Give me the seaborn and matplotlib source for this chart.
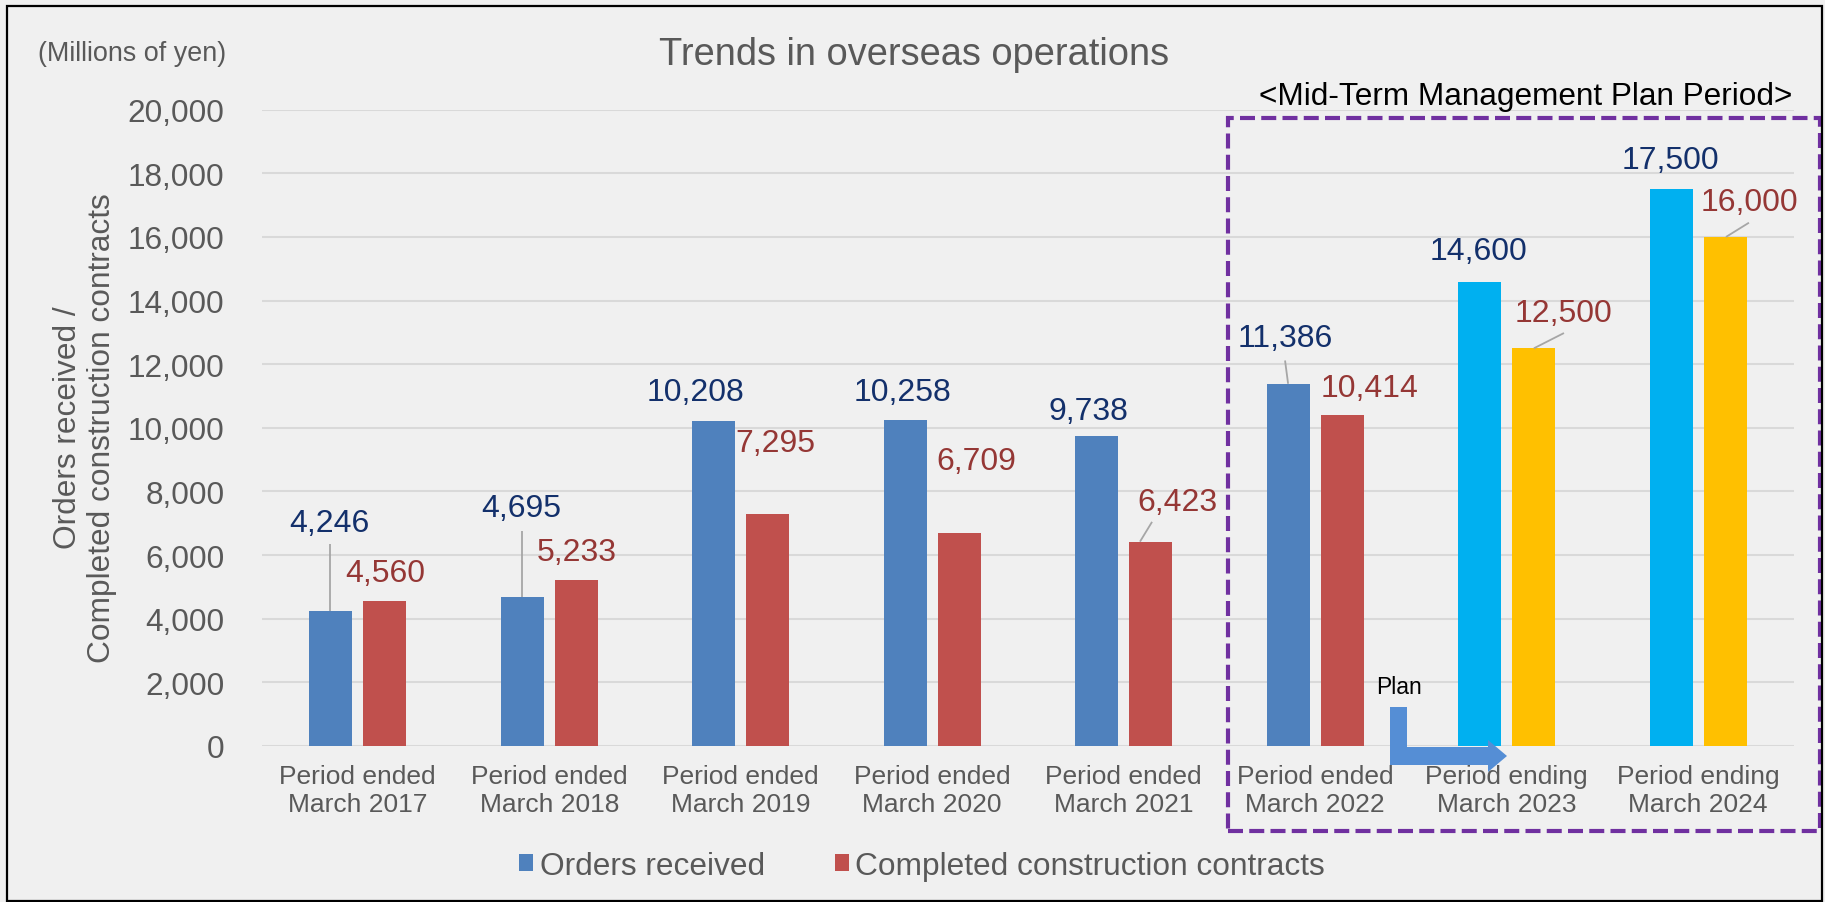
import numpy as np
import pandas as pd
import matplotlib
matplotlib.use("Agg")
import matplotlib.pyplot as plt
import seaborn as sns
from matplotlib.patches import Rectangle, Polygon, Patch

# ---------------- data ----------------
periods = ["Period ended\nMarch 2017", "Period ended\nMarch 2018", "Period ended\nMarch 2019",
           "Period ended\nMarch 2020", "Period ended\nMarch 2021", "Period ended\nMarch 2022",
           "Period ending\nMarch 2023", "Period ending\nMarch 2024"]
orders = [4246, 4695, 10208, 10258, 9738, 11386, 14600, 17500]
contracts = [4560, 5233, 7295, 6709, 6423, 10414, 12500, 16000]
series_names = ["Orders received", "Completed construction contracts"]
y_ticks = [0, 2000, 4000, 6000, 8000, 10000, 12000, 14000, 16000, 18000, 20000]
n_actual = 6  # first six periods are actuals, the rest are plan

# ---------------- style ----------------
BG = "#F0F0F0"
C_ORD = "#4F81BD"
C_CON = "#C0504D"
C_ORD_PLAN = "#00B0F0"
C_CON_PLAN = "#FFC000"
C_ORD_TXT = "#13306B"
C_CON_TXT = "#953735"
GREY_TXT = "#595959"

sns.set_theme(style="white")
plt.rcParams["font.family"] = ["Liberation Sans", "DejaVu Sans"]

W, H = 1825, 903
fig = plt.figure(figsize=(W / 100, H / 100), dpi=100, facecolor=BG)

def fx(px):
    return px / W

def fy(py):
    return 1 - py / H

ax = fig.add_axes([fx(262), fy(747), (1794 - 262) / W, (747 - 110.7) / H])
ax.set_facecolor(BG)

df = pd.DataFrame({
    "period": periods * 2,
    "series": [series_names[0]] * len(periods) + [series_names[1]] * len(periods),
    "value": orders + contracts,
})

sns.barplot(data=df, x="period", y="value", hue="series", order=periods,
            hue_order=series_names, palette=[C_ORD, C_CON], saturation=1,
            width=0.567, gap=0.21, legend=False, ax=ax, linewidth=0, zorder=3)

ord_bars = ax.containers[0]
con_bars = ax.containers[1]
for i, b in enumerate(ord_bars):
    if i >= n_actual:
        b.set_facecolor(C_ORD_PLAN)
for i, b in enumerate(con_bars):
    if i >= n_actual:
        b.set_facecolor(C_CON_PLAN)

ax.set_xlim(-0.5, 7.5)
ax.set_ylim(0, 20000)
ax.set_yticks(y_ticks)
ax.set_yticklabels([f"{v:,}" for v in y_ticks])
ax.yaxis.grid(True, color="#D9D9D9", linewidth=1.5, zorder=0)
ax.xaxis.grid(False)
ax.set_axisbelow(True)
for s in ax.spines.values():
    s.set_visible(False)
ax.tick_params(axis="y", length=0, pad=27, labelsize=22.7, labelcolor=GREY_TXT)
ax.tick_params(axis="x", length=0, pad=13, labelsize=19, labelcolor=GREY_TXT)
for lab in ax.get_xticklabels():
    lab.set_linespacing(1.22)
ax.set_xlabel("")
ax.set_ylabel("")

# ---------------- value labels ----------------
# offsets of label centre from bar top (x in category units, y in data units)
ord_dx = [-0.006, -0.006, -0.092, -0.016, -0.043, -0.016, -0.008, -0.006]
ord_dy = [2767, 2790, 910, 860, 798, 1446, 949, 930]
con_dx = [0.0, 0.0, 0.04, 0.09, 0.136, 0.144, 0.157, 0.123]
con_dy = [880, 860, 2215, 2254, 1251, 845, 1100, 1109]
# leader lines: index -> (start dx, start dy, end dx) relative to bar top centre
ord_leaders = {0: (-0.004, 2107, -0.004), 1: (-0.002, 2076, -0.002), 5: (-0.016, 731, 0.0)}
con_leaders = {4: (0.006, 622, -0.057), 6: (0.157, 480, 0.0), 7: (0.123, 448, 0.003)}

def label_bars(bars, vals, dxs, dys, color, leaders):
    for i, (b, v) in enumerate(zip(bars, vals)):
        xc = b.get_x() + b.get_width() / 2
        top = b.get_height()
        ax.text(xc + dxs[i], top + dys[i], f"{v:,}", ha="center", va="center",
                fontsize=23, color=color, zorder=5)
        if i in leaders:
            sdx, sdy, edx = leaders[i]
            ax.plot([xc + sdx, xc + edx], [top + sdy, top], color="#A6A6A6",
                    linewidth=1.3, zorder=4, solid_capstyle="butt")

label_bars(ord_bars, orders, ord_dx, ord_dy, C_ORD_TXT, ord_leaders)
label_bars(con_bars, contracts, con_dx, con_dy, C_CON_TXT, con_leaders)

# ---------------- texts ----------------
fig.text(fx(914), fy(55), "Trends in overseas operations", ha="center", va="center",
         fontsize=27.4, color=GREY_TXT)
fig.text(fx(38), fy(54), "(Millions of yen)", ha="left", va="center",
         fontsize=19.4, color=GREY_TXT)
fig.text(fx(85), fy(428), "Orders received /\nCompleted construction contracts",
         ha="center", va="center", rotation=90, fontsize=22.8, color=GREY_TXT,
         linespacing=1.2)
fig.text(fx(1792), fy(97), "<Mid-Term Management Plan Period>", ha="right", va="center",
         fontsize=22.7, color="black")
fig.text(fx(1399), fy(688), "Plan", ha="center", va="center", fontsize=16.5, color="black")

# Plan arrow (L-shaped)
arrow_px = [(1390, 708), (1407, 708), (1407, 748), (1488, 748), (1488, 741), (1507, 757),
            (1488, 773), (1488, 766), (1390, 766)]
fig.patches.append(Polygon([(fx(x), fy(y)) for x, y in arrow_px], closed=True,
                           transform=fig.transFigure, facecolor="#558ED5",
                           edgecolor="none", zorder=6))

# dashed mid-term box
fig.patches.append(Rectangle((fx(1228), fy(832)), fx(1820) - fx(1228), fy(119) - fy(832),
                             transform=fig.transFigure, fill=False, edgecolor="#7030A0",
                             linewidth=3.0, linestyle=(0, (3.6, 1.5)), zorder=7))

# figure border
fig.patches.append(Rectangle((fx(7), fy(902)), fx(1822) - fx(7), fy(7) - fy(902),
                             transform=fig.transFigure, fill=False, edgecolor="black",
                             linewidth=1.6, zorder=8))

# legend
handles = [Patch(facecolor=C_ORD, edgecolor="none"), Patch(facecolor=C_CON, edgecolor="none")]
fig.legend(handles, series_names, loc="center", bbox_to_anchor=(fx(922), fy(867)),
           ncol=2, frameon=False, fontsize=22.8, labelcolor=GREY_TXT,
           handlelength=0.45, handleheight=0.45, handletextpad=0.2, columnspacing=2.2)

fig.savefig("out.png", dpi=100, facecolor=BG)
